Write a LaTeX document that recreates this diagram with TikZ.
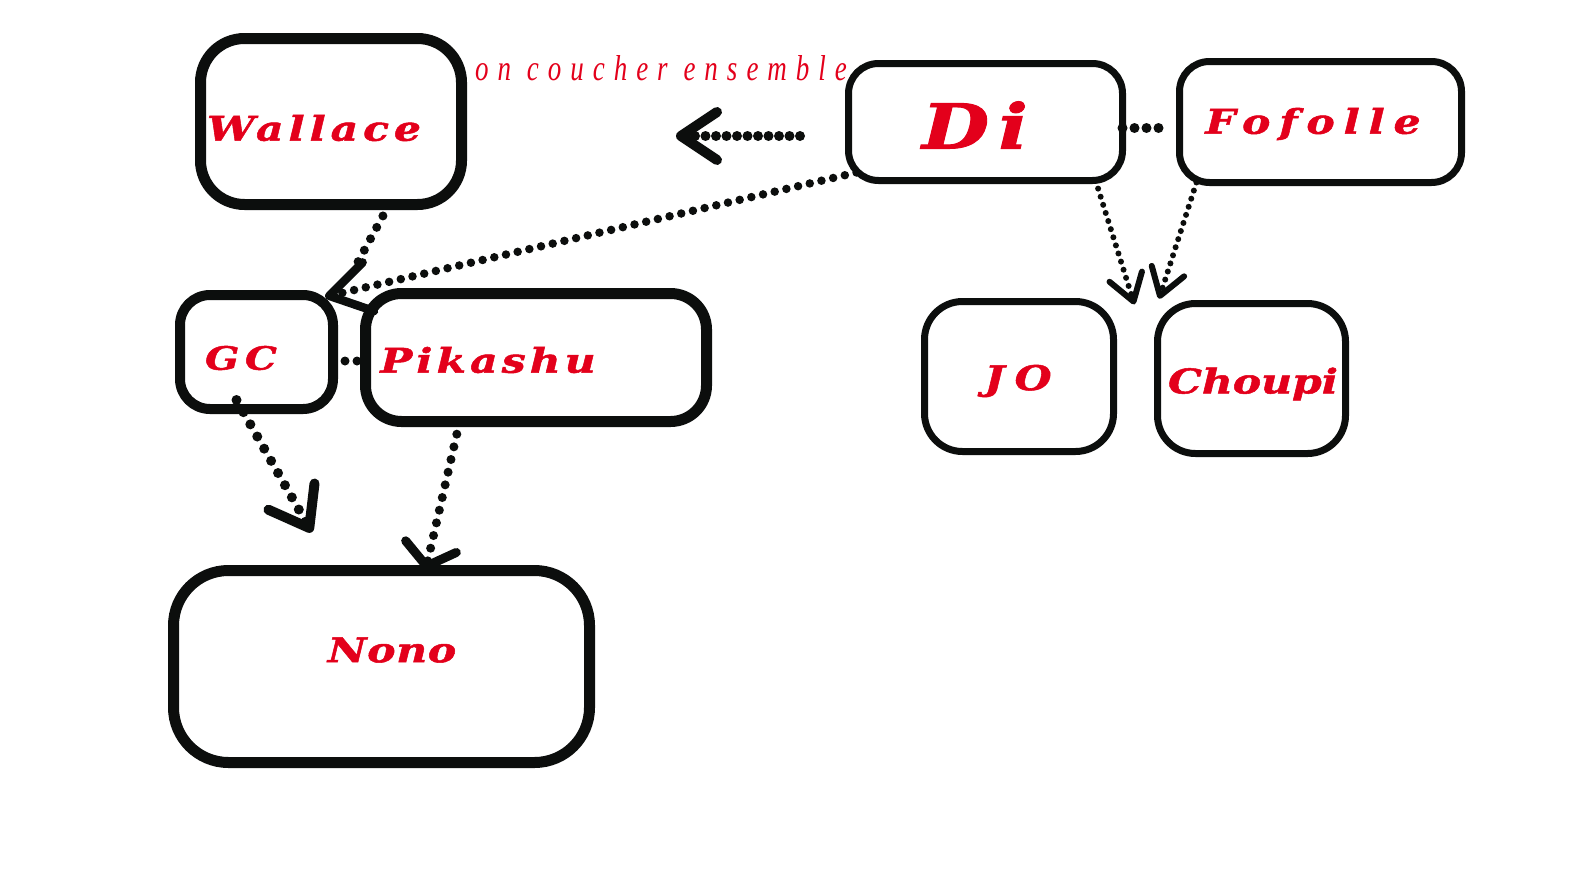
\documentclass[tikz,border=0pt]{standalone}
\usepackage{xcolor}
\usepackage{fontspec}
\usepackage{tikz}
\usetikzlibrary{arrows.meta}
\definecolor{ink}{HTML}{0C0E0D}
\definecolor{namered}{HTML}{E3001B}
\newfontfamily\namefont[FakeStretch=1.25,FakeBold=1.5]{DejaVu Serif}
\newfontfamily\notefont[FakeStretch=0.75,LetterSpace=25]{Liberation Serif}

\begin{document}
\begin{tikzpicture}[x=1pt,y=-1pt,
  box/.style={draw=ink,line width=11pt,rounded corners=40pt,inner sep=0pt,outer sep=0pt},
  lightbox/.style={box,line width=7pt,rounded corners=30pt},
  who/.style={text=namered,inner sep=0pt,font=\namefont\bfseries\itshape\fontsize{34}{40}\selectfont\addfontfeature{LetterSpace=#1}},
  dots/.style={draw=ink,line width=9pt,line cap=round,dash pattern=on 0pt off 13pt},
  fine/.style={dots,line width=6pt,dash pattern=on 0pt off 8.5pt}]
  \path[use as bounding box,fill=white] (0,0) rectangle (1570,894);
  % left group
  \node[box,minimum width=261pt,minimum height=166pt,rounded corners=44pt,label={[who=14.5,xshift=-17pt,yshift=-6.5pt]center:Wallace}] (wal) at (331,121.5) {};
  \node[box,line width=10pt,minimum width=153pt,minimum height=114pt,rounded corners=30pt,label={[who=18,font=\namefont\bfseries\itshape\fontsize{32}{38}\selectfont\addfontfeature{LetterSpace=18},xshift=-15.5pt,yshift=-6pt]center:GC}] (gc) at (256.5,352) {};
  \node[box,minimum width=341pt,minimum height=128pt,rounded corners=36pt,label={[who=12,xshift=-48pt,yshift=-2.5pt]center:Pikashu}] (pik) at (536,357.5) {};
  \node[box,minimum width=416pt,minimum height=192pt,rounded corners=55pt,label={[who=2,xshift=10.5pt,yshift=16.5pt]center:Nono}] (nono) at (381.5,666.5) {};
  % right group
  \node[lightbox,minimum width=274pt,minimum height=117pt,label={[who=15,font=\namefont\bfseries\itshape\fontsize{62}{70}\selectfont\addfontfeature{LetterSpace=15},xshift=-10.5pt,yshift=-3pt]center:Di}] (di) at (985.5,122) {};
  \node[lightbox,minimum width=282pt,minimum height=121pt,label={[who=26,xshift=-7.5pt,yshift=-2pt]center:Fofolle}] (fof) at (1320.5,122) {};
  \node[lightbox,minimum width=189pt,minimum height=150pt,rounded corners=38pt,label={[who=30,xshift=-1pt,yshift=-4.5pt]center:JO}] (jo) at (1019,376.5) {};
  \node[lightbox,minimum width=188pt,minimum height=150pt,rounded corners=38pt,label={[who=0,xshift=1.5pt,yshift=-5.5pt]center:Choupi}] (chp) at (1251.5,378.5) {};
  \node[text=namered,inner sep=0pt,font=\notefont\itshape\fontsize{36}{40}\selectfont] (note) at (661,68) {on coucher ensemble};
  % connectors
  \coordinate (left-from) at (800,136);
  \coordinate (left-to) at (676,136);
  \draw[dots,line width=10pt,dash pattern=on 0pt off 10.5pt,-{Straight Barb[length=36pt,width=48pt,round]}] (left-from) -- (left-to);
  \draw[dots,line width=8.5pt,dash pattern=on 0pt off 12pt,shorten >=-8pt,-{Straight Barb[length=40pt,width=50pt,round]}] ([shift={(8pt,8pt)}]di.south west) -- (gc.north east);
  \draw[dots,shorten >=37pt] (wal.-55) -- ([xshift=7pt]gc.north east);
  \draw[dots,line width=10pt,dash pattern=on 0pt off 14pt,shorten >=44pt,-{Straight Barb[length=36pt,width=53pt,round]}] ([shift={(-20pt,9pt)}]gc.south) -- ([xshift=-48pt]nono.north);
  \draw[dots,-{Straight Barb[length=20pt,width=52pt,round]}] (pik.-140) -- ([xshift=44pt]nono.north);
  \draw[fine,shorten >=-3pt,-{Straight Barb[length=26pt,width=34pt,round]}] (di.-28) -- ([xshift=20pt]jo.north east);
  \draw[fine,shorten >=5pt,-{Straight Barb[length=26pt,width=34pt,round]}] (fof.-154) -- (chp.north west);
  \draw[dots,line width=10pt,dash pattern=on 0pt off 12pt,shorten >=10pt] ([yshift=-6pt]di.east) -- ([yshift=-6pt]fof.west);
  \draw[dots,dash pattern=on 0pt off 12pt] ([yshift=-9pt]gc.east) -- ([yshift=-3.5pt]pik.west);
\end{tikzpicture}
\end{document}
